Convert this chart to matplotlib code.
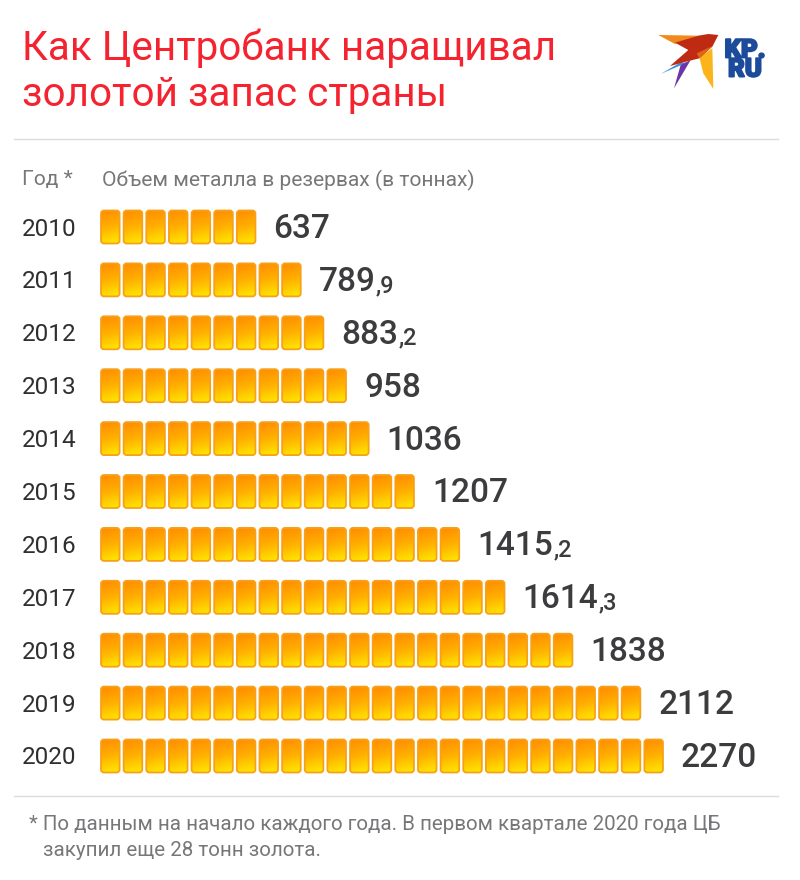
import matplotlib
matplotlib.use("Agg")
import matplotlib.pyplot as plt
import matplotlib.patheffects as pe
from matplotlib.patches import FancyBboxPatch, Polygon
import numpy as np

plt.rcParams['font.family'] = ['Roboto', 'DejaVu Sans']

# data
years = [2010, 2011, 2012, 2013, 2014, 2015, 2016, 2017, 2018, 2019, 2020]
tonnes = [637, 789.9, 883.2, 958, 1036, 1207, 1415.2, 1614.3, 1838, 2112, 2270]
ingots = [7, 9, 10, 11, 12, 14, 16, 18, 21, 24, 25]

title_lines = ["Как Центробанк наращивал", "золотой запас страны"]
year_head = "Год *"
value_head = "Объем металла в резервах (в тоннах)"
note_lines = ["* По данным на начало каждого года. В первом квартале 2020 года ЦБ",
              "закупил еще 28 тонн золота."]

RED = "#f4232f"
DARK = "#3c3c3e"
GREY = "#77777a"
NAVY = "#1d4b9b"

# layout in pixels
row_top = 227
row_step = 52.9
bar_left = 101
bar_step = 22.64
bar_w = 18.6
bar_h = 33

fig = plt.figure(figsize=(8, 8.8), dpi=100, facecolor="white")
ax = fig.add_axes([0, 0, 1, 1])
ax.set_xlim(0, 800)
ax.set_ylim(880, 0)
ax.axis("off")

# top = orange, bottom = yellow, with a little diagonal slant
gy, gx = np.mgrid[0:1:40j, 0:1:20j]
grad = np.clip(gy + 0.15 * (gx - 0.5), 0, 1)
cmap = matplotlib.colors.LinearSegmentedColormap.from_list(
    "gold", ["#ff9000", "#ffb000", "#ffe200"])


def draw_ingot(x, yc):
    y = yc - bar_h / 2
    box = FancyBboxPatch((x + 1.5, y + 1.5), bar_w - 3, bar_h - 3,
                         boxstyle="round,pad=1.5,rounding_size=3",
                         facecolor="none", edgecolor="#f7a11a", linewidth=1.3, zorder=3)
    ax.add_patch(box)
    im = ax.imshow(grad, extent=(x, x + bar_w, y + bar_h, y), cmap=cmap,
                   vmin=0, vmax=1, aspect="auto", zorder=2)
    im.set_clip_path(box)


def bird(points, colour):
    # points are measured on a 3x crop of the logo
    xy = [(640 + px / 3, 20 + py / 3) for px, py in points]
    ax.add_patch(Polygon(xy, closed=True, color=colour, lw=0))


# title
ax.text(22, 48, title_lines[0], color=RED, fontsize=29.1, va="center", ha="left")
ax.text(22, 95, title_lines[1], color=RED, fontsize=29.1, va="center", ha="left")

# logo
bird([(55, 45), (175, 47), (105, 72)], "#f08a1d")
bird([(62, 162), (120, 128), (140, 128)], "#3b93dd")
bird([(152, 120), (102, 205), (122, 135)], "#6a35a8")
bird([(178, 112), (217, 85), (220, 207), (190, 160)], "#fbb41a")
bird([(105, 68), (175, 47), (205, 42), (235, 45), (217, 80), (178, 115), (150, 122), (90, 138), (145, 90)], "#bf2a12")
bird([(170, 100), (217, 78), (178, 115)], "#e0641c")
ax.text(745, 60, "KP.\nRU", color=NAVY, fontsize=18.5, fontweight="black", ha="center", va="center",
        linespacing=0.74, path_effects=[pe.withStroke(linewidth=1.4, foreground=NAVY)])

# rules
ax.plot([14, 778], [139, 139], color="#dcdcdc", lw=1)
ax.plot([14, 778], [796, 796], color="#dcdcdc", lw=1)

# column heads
ax.text(22, 180, year_head, color=GREY, fontsize=15.1, va="center", ha="left")
ax.text(102, 180, value_head, color=GREY, fontsize=15.1, va="center", ha="left")

renderer = fig.canvas.get_renderer()

for i, year in enumerate(years):
    yc = row_top + i * row_step
    ax.text(22, yc + 2, str(year), color="#2f2f31", fontsize=17.5, va="center", ha="left")
    for j in range(ingots[i]):
        draw_ingot(bar_left + j * bar_step, yc)
    end = bar_left + ingots[i] * bar_step - (bar_step - bar_w)
    whole, _, frac = f"{tonnes[i]:g}".partition(".")
    t = ax.text(end + 18, yc + 2, whole, color=DARK, fontsize=24, fontweight="medium",
                va="center", ha="left")
    if frac:
        box = t.get_window_extent(renderer)
        ax.text(box.x1 + 0.5, yc + 12, "," + frac, color=DARK, fontsize=17,
                va="baseline", ha="left", fontweight="medium")

# footnote
ax.text(29, 824, note_lines[0], color=GREY, fontsize=14.8, va="center", ha="left")
ax.text(43, 851, note_lines[1], color=GREY, fontsize=14.8, va="center", ha="left")

fig.savefig("out.png", dpi=100, facecolor="white")
